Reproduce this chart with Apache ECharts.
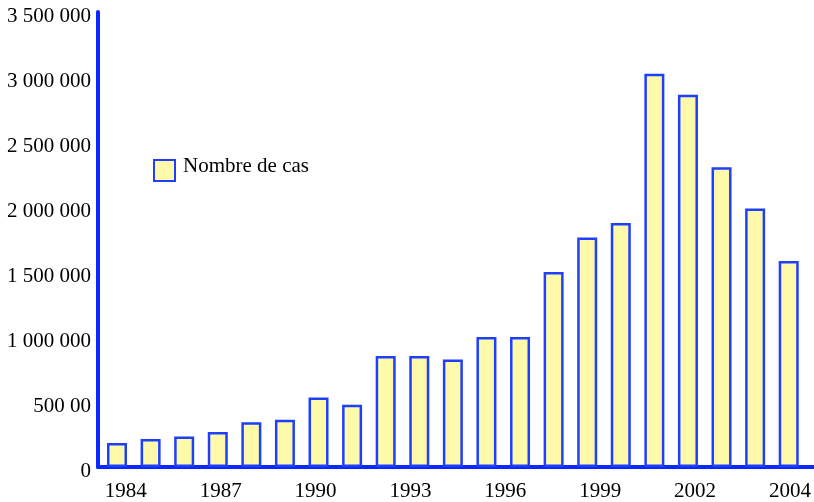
<!DOCTYPE html>
<html><head><meta charset="utf-8">
<script src="https://cdn.jsdelivr.net/npm/echarts@6/dist/echarts.min.js"></script>
<style>html,body{margin:0;padding:0;background:#fff}#c{width:814px;height:502px}</style>
</head><body><div id="c"></div>
<script>
const years = [1984,1985,1986,1987,1988,1989,1990,1991,1992,1993,1994,1995,1996,1997,1998,1999,2000,2001,2002,2003,2004];
const cases = [185000,216000,235000,270000,345000,363000,535000,478000,853000,853000,826000,1000000,1000000,1500000,1765000,1877000,3025000,2863000,2305000,1988000,1584000];
const xTickLabels = ['1984','1987','1990','1993','1996','1999','2002','2004'];
const yTickLabels = {0:'0',500000:'500 00',1000000:'1 000 000',1500000:'1 500 000',2000000:'2 000 000',2500000:'2 500 000',3000000:'3 000 000',3500000:'3 500 000'};
const seriesName = 'Nombre de cas';

const chart = echarts.init(document.getElementById('c'));
const font = '"Liberation Serif", "Times New Roman", serif';
chart.setOption({
  animation:false,
  backgroundColor:'#fff',
  grid:[
    {left:98,right:0,top:12,bottom:35,containLabel:false},
    {left:125.8,right:22.5,top:12,bottom:35,containLabel:false}
  ],
  legend:{left:148,top:151,itemWidth:21,itemHeight:21,itemGap:8,icon:'rect',
    formatter:n=>'{a|'+n+'}\n{b| }',
    textStyle:{fontFamily:font,fontSize:21,color:'#000',
      rich:{a:{fontFamily:font,fontSize:21,color:'#000',padding:[0,0,0,3]},b:{fontSize:1,lineHeight:8}}},
    data:[seriesName]},
  xAxis:[
    {type:'value',gridIndex:0,min:1983.434,max:2004.753,
      axisLine:{show:true,lineStyle:{color:'#0a28ff',width:4}},
      axisTick:{show:false},splitLine:{show:false},axisLabel:{show:false}},
    {type:'category',gridIndex:1,data:xTickLabels,boundaryGap:false,
      axisLine:{show:false},axisTick:{show:false},splitLine:{show:false},
      axisLabel:{margin:15,fontFamily:font,fontSize:21,color:'#000',interval:0}}
  ],
  yAxis:[
    {type:'value',gridIndex:0,min:0,max:3500000,interval:500000,
      axisLine:{show:true,lineStyle:{color:'#0a28ff',width:4}},
      axisTick:{show:false},splitLine:{show:false},
      axisLabel:{margin:7,fontFamily:font,fontSize:21,color:'#000',verticalAlign:'top',lineHeight:8,
        formatter:v=>yTickLabels[v]!==undefined?yTickLabels[v]:''}},
    {type:'value',gridIndex:1,min:0,max:1,show:false}
  ],
  series:[{name:seriesName,type:'bar',barWidth:20,xAxisIndex:0,yAxisIndex:0,
    data:years.map((y,i)=>[y,cases[i]]),
    itemStyle:{color:'#fffaaa',borderColor:'#1f3fff',borderWidth:2.5}}]
});
</script></body></html>
